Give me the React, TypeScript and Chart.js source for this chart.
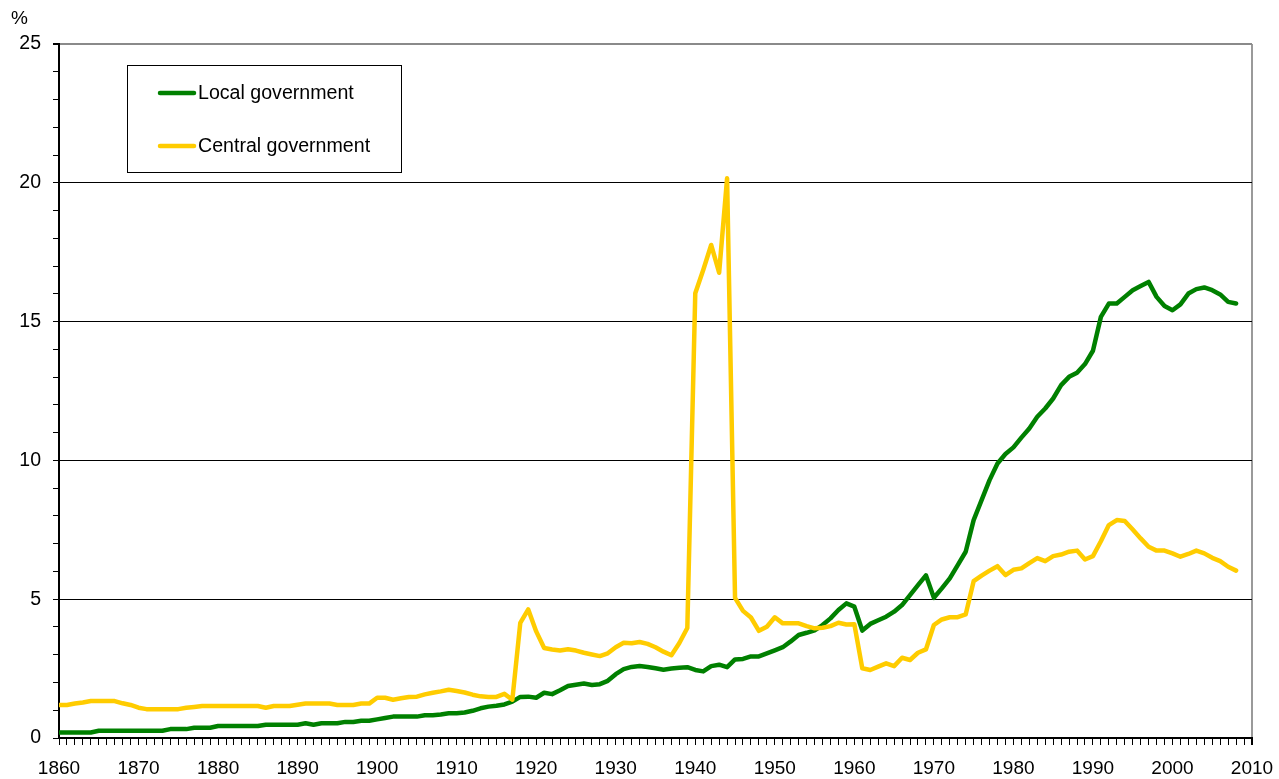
import React, { useEffect, useRef } from 'react';
import { Chart, registerables } from 'chart.js';

Chart.register(...registerables);

const years = [
  1860, 1861, 1862, 1863, 1864, 1865, 1866, 1867, 1868, 1869,
  1870, 1871, 1872, 1873, 1874, 1875, 1876, 1877, 1878, 1879,
  1880, 1881, 1882, 1883, 1884, 1885, 1886, 1887, 1888, 1889,
  1890, 1891, 1892, 1893, 1894, 1895, 1896, 1897, 1898, 1899,
  1900, 1901, 1902, 1903, 1904, 1905, 1906, 1907, 1908, 1909,
  1910, 1911, 1912, 1913, 1914, 1915, 1916, 1917, 1918, 1919,
  1920, 1921, 1922, 1923, 1924, 1925, 1926, 1927, 1928, 1929,
  1930, 1931, 1932, 1933, 1934, 1935, 1936, 1937, 1938, 1939,
  1940, 1941, 1942, 1943, 1944, 1945, 1946, 1947, 1948, 1949,
  1950, 1951, 1952, 1953, 1954, 1955, 1956, 1957, 1958, 1959,
  1960, 1961, 1962, 1963, 1964, 1965, 1966, 1967, 1968, 1969,
  1970, 1971, 1972, 1973, 1974, 1975, 1976, 1977, 1978, 1979,
  1980, 1981, 1982, 1983, 1984, 1985, 1986, 1987, 1988, 1989,
  1990, 1991, 1992, 1993, 1994, 1995, 1996, 1997, 1998, 1999,
  2000, 2001, 2002, 2003, 2004, 2005, 2006, 2007, 2008,
];

const localGovernment = [
  0.2, 0.2, 0.2, 0.2, 0.2, 0.26, 0.26, 0.26, 0.26, 0.26,
  0.26, 0.26, 0.26, 0.26, 0.32, 0.32, 0.32, 0.37, 0.37, 0.37,
  0.43, 0.43, 0.43, 0.43, 0.43, 0.43, 0.48, 0.48, 0.48, 0.48,
  0.48, 0.53, 0.48, 0.53, 0.53, 0.53, 0.58, 0.58, 0.62, 0.62,
  0.67, 0.72, 0.77, 0.77, 0.77, 0.77, 0.82, 0.82, 0.85, 0.89,
  0.89, 0.92, 0.98, 1.07, 1.13, 1.16, 1.21, 1.31, 1.48, 1.49,
  1.45, 1.63, 1.58, 1.72, 1.87, 1.92, 1.96, 1.91, 1.94, 2.06,
  2.3, 2.48, 2.56, 2.59, 2.56, 2.51, 2.46, 2.5, 2.53, 2.55,
  2.45, 2.4, 2.59, 2.64, 2.55, 2.83, 2.85, 2.94, 2.94, 3.05,
  3.16, 3.27, 3.48, 3.71, 3.79, 3.88, 4.07, 4.31, 4.61, 4.85,
  4.73, 3.87, 4.11, 4.24, 4.37, 4.55, 4.79, 5.15, 5.51, 5.86,
  5.05, 5.39, 5.75, 6.23, 6.71, 7.85, 8.57, 9.29, 9.89, 10.23,
  10.47, 10.82, 11.15, 11.57, 11.87, 12.23, 12.71, 13.01, 13.16, 13.47,
  13.95, 15.17, 15.65, 15.65, 15.89, 16.13, 16.28, 16.43, 15.89, 15.56,
  15.41, 15.62, 16.01, 16.17, 16.23, 16.13, 15.98, 15.71, 15.65,
];

const centralGovernment = [
  1.19, 1.19, 1.24, 1.28, 1.33, 1.33, 1.33, 1.33, 1.25, 1.19,
  1.09, 1.04, 1.04, 1.04, 1.04, 1.04, 1.09, 1.12, 1.15, 1.15,
  1.15, 1.15, 1.15, 1.15, 1.15, 1.15, 1.09, 1.15, 1.15, 1.15,
  1.2, 1.24, 1.24, 1.24, 1.24, 1.19, 1.19, 1.19, 1.24, 1.24,
  1.45, 1.45, 1.38, 1.43, 1.48, 1.49, 1.57, 1.63, 1.68, 1.74,
  1.69, 1.64, 1.56, 1.5, 1.48, 1.48, 1.59, 1.38, 4.15, 4.63,
  3.84, 3.24, 3.19, 3.15, 3.2, 3.15, 3.07, 3.01, 2.95, 3.05,
  3.27, 3.43, 3.41, 3.46, 3.39, 3.27, 3.11, 2.98, 3.42, 3.96,
  16.02, 16.86, 17.76, 16.76, 20.16, 5.05, 4.58, 4.34, 3.86, 4.01,
  4.35, 4.13, 4.13, 4.13, 4.03, 3.95, 3.97, 4.03, 4.15, 4.09,
  4.1, 2.51, 2.45, 2.57, 2.69, 2.59, 2.89, 2.81, 3.07, 3.19,
  4.07, 4.27, 4.35, 4.35, 4.45, 5.65, 5.85, 6.03, 6.19, 5.87,
  6.06, 6.11, 6.3, 6.48, 6.37, 6.55, 6.61, 6.71, 6.75, 6.43,
  6.55, 7.09, 7.67, 7.85, 7.82, 7.51, 7.19, 6.89, 6.75, 6.75,
  6.65, 6.53, 6.63, 6.75, 6.65, 6.49, 6.37, 6.17, 6.03,
];

const seriesLabels = ['Local government', 'Central government'];
const seriesColors = ['#008000', '#FFCC00'];
const yUnitLabel = '%';
const xMin = 1860;
const xMax = 2010;
const yMin = 0;
const yMax = 25;

const FONT = "'Liberation Sans', Arial, Helvetica, sans-serif";

export default function App() {
  const canvasRef = useRef<HTMLCanvasElement | null>(null);

  useEffect(() => {
    const canvas = canvasRef.current;
    if (!canvas) return;

    const boxLegend = {
      id: 'boxLegend',
      afterDraw(chart: any) {
        const { ctx, chartArea } = chart;
        ctx.save();
        // unit label above the value axis
        ctx.fillStyle = '#000';
        ctx.font = `19px ${FONT}`;
        ctx.textAlign = 'left';
        ctx.textBaseline = 'middle';
        ctx.fillText(yUnitLabel, 11, 19);

        const x0 = chartArea.left + 68;
        const y0 = chartArea.top + 21;
        const w = 274;
        const h = 107;
        ctx.fillStyle = '#fff';
        ctx.fillRect(x0, y0, w, h);
        ctx.strokeStyle = '#000';
        ctx.lineWidth = 1;
        ctx.strokeRect(x0 + 0.5, y0 + 0.5, w, h);
        chart.data.datasets
          .slice()
          .sort((a: any, b: any) => a.legendIndex - b.legendIndex)
          .forEach((ds: any, i: number) => {
            const y = y0 + 28 + i * 53;
            ctx.strokeStyle = ds.borderColor;
            ctx.lineWidth = 4.5;
            ctx.lineCap = 'round';
            ctx.beginPath();
            ctx.moveTo(x0 + 33, y);
            ctx.lineTo(x0 + 67, y);
            ctx.stroke();
            ctx.fillStyle = '#000';
            ctx.font = `19.6px ${FONT}`;
            ctx.textAlign = 'left';
            ctx.textBaseline = 'middle';
            ctx.fillText(ds.label, x0 + 71, y + 1);
          });
        ctx.restore();
      },
    };

    const chart = new Chart(canvas, {
      type: 'line',
      data: {
        datasets: [
          {
            label: seriesLabels[0],
            legendIndex: 0,
            data: years.map((yr, i) => ({ x: yr, y: localGovernment[i] })),
            borderColor: seriesColors[0],
            backgroundColor: seriesColors[0],
            borderWidth: 4.5,
            pointRadius: 0,
            tension: 0,
            borderJoinStyle: 'round',
            borderCapStyle: 'round',
            order: 1,
          } as any,
          {
            label: seriesLabels[1],
            legendIndex: 1,
            data: years.map((yr, i) => ({ x: yr, y: centralGovernment[i] })),
            borderColor: seriesColors[1],
            backgroundColor: seriesColors[1],
            borderWidth: 4.5,
            pointRadius: 0,
            tension: 0,
            borderJoinStyle: 'round',
            borderCapStyle: 'round',
            order: 0,
          } as any,
        ],
      },
      options: {
        animation: false,
        responsive: false,
        devicePixelRatio: 1,
        layout: { padding: { left: 0, top: 44, right: 27, bottom: 0 } },
        plugins: {
          legend: { display: false },
          tooltip: { enabled: false },
          title: { display: false },
        },
        scales: {
          x: {
            type: 'linear',
            min: xMin,
            max: xMax,
            afterFit: (scale: any) => {
              scale.height = 41;
              scale.paddingLeft = 0;
              scale.paddingRight = 0;
            },
            ticks: {
              stepSize: 1,
              autoSkip: false,
              maxRotation: 0,
              minRotation: 0,
              padding: 12,
              color: '#000',
              font: { family: FONT, size: 19 },
              callback: (v: any) => (Number(v) % 10 === 0 ? String(v) : ''),
            },
            grid: {
              drawOnChartArea: true,
              color: (c: any) =>
                c.tick && c.tick.value === xMax ? '#9a9a9a' : 'rgba(0,0,0,0)',
              tickColor: '#000',
              tickLength: 7,
              lineWidth: (c: any) => (c.tick && c.tick.value === xMax ? 2 : 1),
            },
            border: { color: '#000', width: 2 },
          },
          y: {
            type: 'linear',
            min: yMin,
            max: yMax,
            afterFit: (scale: any) => {
              scale.width = 59;
            },
            ticks: {
              stepSize: 1,
              autoSkip: false,
              padding: 12,
              color: '#000',
              font: { family: FONT, size: 19.5 },
              callback: (v: any) => (Number(v) % 5 === 0 ? String(v) : ''),
            },
            grid: {
              color: (c: any) => {
                const v = c.tick ? c.tick.value : -1;
                if (v === yMax) return '#8a8a8a';
                if (v > 0 && v % 5 === 0) return '#000';
                return 'rgba(0,0,0,0)';
              },
              lineWidth: (c: any) => (c.tick && c.tick.value === yMax ? 2 : 1),
              tickColor: '#000',
              tickLength: 6,
            },
            border: { color: '#000', width: 2 },
          },
        },
      } as any,
      plugins: [boxLegend],
    });

    return () => {
      chart.destroy();
    };
  }, []);

  return (
    <canvas
      ref={canvasRef}
      width={1279}
      height={779}
      style={{ position: 'absolute', left: 0, top: 0, display: 'block' }}
    />
  );
}
